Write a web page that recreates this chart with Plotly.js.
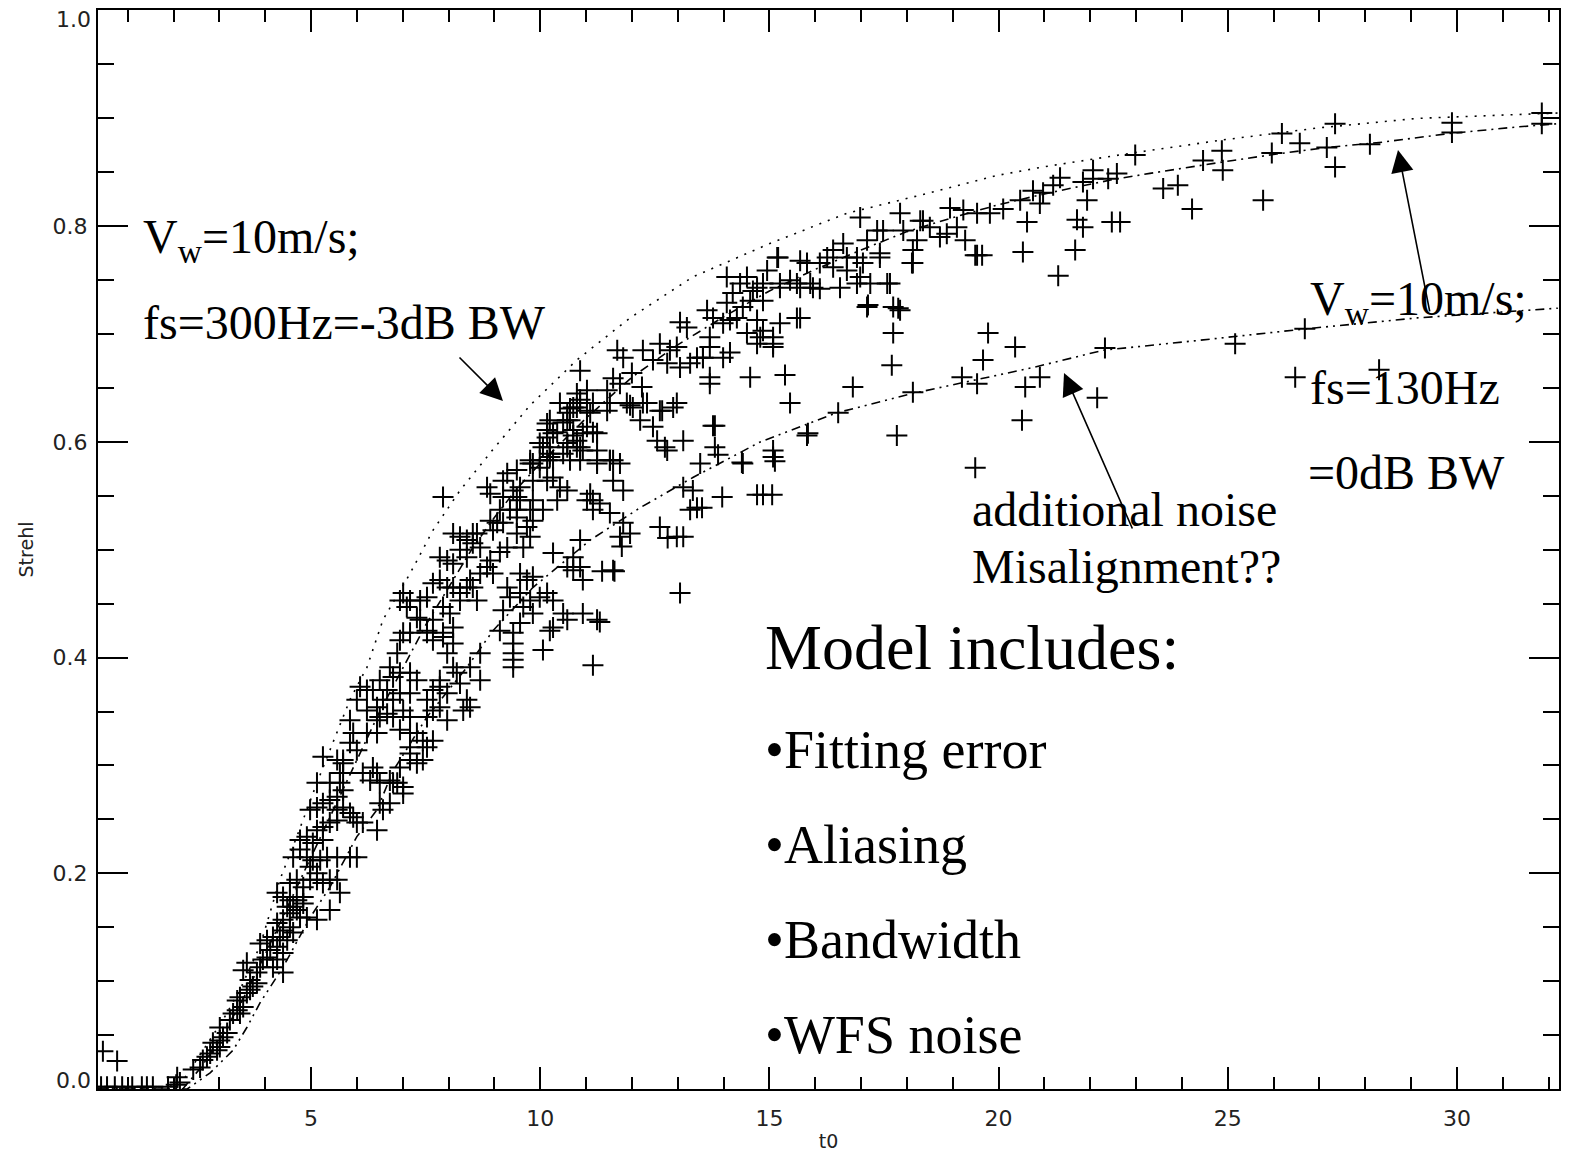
<!DOCTYPE html>
<html>
<head>
<meta charset="utf-8">
<script src="https://cdn.plot.ly/plotly-3.0.1.min.js"></script>
<style>html,body{margin:0;padding:0;background:#fff;}#chart{width:1572px;height:1164px;}</style>
</head>
<body>
<div id="chart"></div>
<script>
// ---- observed points [t0, Strehl] ----
var obsFloor = [[0.42,0.002],[0.55,0.002],[0.72,0.002],[0.88,0.002],[1.10,0.002],[1.31,0.002],[1.42,0.002],[1.55,0.002],[1.88,0.002],[2.06,0.004],[0.46,0.035],[0.77,0.026],[2.08,0.011],[2.14,0.006]];

var obsRise = [[2.43,0.018],[2.64,0.027],[2.58,0.020],[2.73,0.030],[2.80,0.033],[2.95,0.036],[3.01,0.039],[2.86,0.043],[3.01,0.045],[3.08,0.048],[3.17,0.052],[3.01,0.057],[3.23,0.064],[3.30,0.070],[3.39,0.073],[3.45,0.070],[3.52,0.076],[3.39,0.082],[3.45,0.085],[3.60,0.089],[3.67,0.092],[3.73,0.095],[3.82,0.098],[3.67,0.101],[3.52,0.110],[3.60,0.117],[3.82,0.108],[3.89,0.113],[3.95,0.120],[4.04,0.122],[4.17,0.113],[4.26,0.120],[4.11,0.129],[4.26,0.132],[4.39,0.126],[4.39,0.108],[3.89,0.135],[4.04,0.138],[4.17,0.141],[4.32,0.141],[4.39,0.147],[4.54,0.150],[4.48,0.138],[4.61,0.145],[4.26,0.154],[4.39,0.157],[4.54,0.163],[4.69,0.166],[4.76,0.159],[4.91,0.159],[5.13,0.157],[4.83,0.172],[4.26,0.182],[4.39,0.178],[4.54,0.175],[4.69,0.175],[4.83,0.178],[4.61,0.169],[4.48,0.169],[4.54,0.191],[4.69,0.194],[4.83,0.187],[4.98,0.194],[5.13,0.194],[5.26,0.191],[5.41,0.194],[5.57,0.194],[5.63,0.182],[5.41,0.166],[4.61,0.215],[4.76,0.222],[4.91,0.215],[5.04,0.212],[5.20,0.212],[5.35,0.215],[5.57,0.215],[5.85,0.215],[6.00,0.215],[4.98,0.206],[5.13,0.200],[4.76,0.231],[4.91,0.234],[5.04,0.228],[5.26,0.231],[5.13,0.240],[5.26,0.243],[5.41,0.247],[5.57,0.249],[4.98,0.259],[5.13,0.261],[5.26,0.265],[5.41,0.268],[5.57,0.271],[5.57,0.259],[5.70,0.261],[5.85,0.256],[6.00,0.247],[6.13,0.247],[6.44,0.240],[5.92,0.252],[5.63,0.284],[5.70,0.293],[5.70,0.302],[6.13,0.293],[6.29,0.286],[6.44,0.293],[6.72,0.286],[6.88,0.284],[7.01,0.274],[6.50,0.265],[6.57,0.259],[6.72,0.265],[7.31,0.302],[7.44,0.305]];

var obsBand = [[7.88,0.549],[8.91,0.552],[8.84,0.558],[9.28,0.571],[9.49,0.574],[9.19,0.564],[9.41,0.555],[9.56,0.558],[9.84,0.564],[10.15,0.564],[10.28,0.567],[9.12,0.537],[9.34,0.537],[9.49,0.537],[9.78,0.537],[10.06,0.537],[10.37,0.546],[9.56,0.546],[9.84,0.546],[9.19,0.525],[9.49,0.530],[9.71,0.521],[9.84,0.527],[9.49,0.515],[9.78,0.512],[9.63,0.502],[9.12,0.498],[9.28,0.502],[9.99,0.576],[10.21,0.586],[10.50,0.589],[10.59,0.595],[10.80,0.601],[10.93,0.608],[11.02,0.614],[10.15,0.611],[10.21,0.620],[10.15,0.604],[10.59,0.627],[10.80,0.632],[11.02,0.629],[11.15,0.636],[11.46,0.629],[11.52,0.636],[11.89,0.636],[12.02,0.632],[12.24,0.636],[12.61,0.629],[12.90,0.632],[12.18,0.620],[12.46,0.614],[12.55,0.601],[12.77,0.592],[13.12,0.601],[10.65,0.583],[10.93,0.592],[11.24,0.608],[11.24,0.580],[11.52,0.583],[11.74,0.580],[11.59,0.564],[11.81,0.555],[11.15,0.546],[11.30,0.543],[11.52,0.534],[11.81,0.525],[11.96,0.515],[11.74,0.512],[12.61,0.521],[12.98,0.512],[13.12,0.512],[13.05,0.460],[13.27,0.537],[13.42,0.539],[13.33,0.555],[13.12,0.558],[11.59,0.481],[10.87,0.509],[10.72,0.493],[10.87,0.484],[10.93,0.472],[10.28,0.497],[10.59,0.484],[10.72,0.481],[9.99,0.456],[10.15,0.460],[10.28,0.453],[10.50,0.441],[10.28,0.428],[10.21,0.425],[10.59,0.435],[10.93,0.441],[11.24,0.435],[9.63,0.447],[9.78,0.453],[9.84,0.441],[9.56,0.432],[9.41,0.423],[9.41,0.413],[9.41,0.404],[9.41,0.398],[9.41,0.391],[9.12,0.425],[9.19,0.444],[9.34,0.456],[10.06,0.407],[11.15,0.393],[8.69,0.404],[8.47,0.391],[8.69,0.379],[8.18,0.386],[8.10,0.391],[7.97,0.404],[8.10,0.413],[7.88,0.419],[7.66,0.416],[7.53,0.423],[8.25,0.376],[8.40,0.361],[8.32,0.351],[8.47,0.354],[7.81,0.379],[7.97,0.367],[7.81,0.354],[7.97,0.342],[7.66,0.351],[7.53,0.345],[7.31,0.330],[7.44,0.323],[7.66,0.323],[7.53,0.317],[7.16,0.317],[7.16,0.311],[7.16,0.305],[6.94,0.298],[6.79,0.284],[7.01,0.280],[6.50,0.284],[6.35,0.298],[6.00,0.314],[5.85,0.321],[6.22,0.330],[6.44,0.330],[6.50,0.345],[6.44,0.354],[6.66,0.348],[6.79,0.345],[6.94,0.333],[7.16,0.330],[5.70,0.277],[5.63,0.293],[5.57,0.305],[5.70,0.305],[5.92,0.330],[5.85,0.342],[5.26,0.308],[5.13,0.284],[5.41,0.284],[6.07,0.373],[6.00,0.361],[6.22,0.370],[6.35,0.370],[6.50,0.379],[6.66,0.370],[6.57,0.361],[6.79,0.361],[6.94,0.367],[7.16,0.367],[7.31,0.379],[7.16,0.386],[6.22,0.351],[6.44,0.342],[7.01,0.351],[7.16,0.345],[7.53,0.361],[7.66,0.370],[7.81,0.373],[6.72,0.391],[6.79,0.382],[6.94,0.386],[6.88,0.404],[6.94,0.416],[7.01,0.423],[7.16,0.423],[6.94,0.453],[7.01,0.460],[7.09,0.447],[7.16,0.453],[7.38,0.453],[7.53,0.456],[7.31,0.437],[7.53,0.425],[7.38,0.435],[7.66,0.435],[7.88,0.447],[8.03,0.441],[8.10,0.428],[7.88,0.423],[7.66,0.469],[7.81,0.472],[7.97,0.465],[8.10,0.465],[8.25,0.460],[8.25,0.453],[8.40,0.465],[8.53,0.465],[8.47,0.472],[8.69,0.478],[8.62,0.453],[7.81,0.493],[7.97,0.490],[8.10,0.487],[8.25,0.500],[8.40,0.493],[8.40,0.509],[8.53,0.506],[8.69,0.502],[8.84,0.484],[8.91,0.490],[8.10,0.515],[8.25,0.512],[8.53,0.515],[8.62,0.515],[9.06,0.525],[8.97,0.518],[8.91,0.527],[9.19,0.549],[9.49,0.549],[9.84,0.580],[9.99,0.583],[10.28,0.583],[8.97,0.478],[9.28,0.465],[9.56,0.460],[9.56,0.478],[9.71,0.472],[9.84,0.475],[10.43,0.558],[10.59,0.555],[11.02,0.546],[11.15,0.537],[11.09,0.552],[10.28,0.608],[9.99,0.599],[10.65,0.620]];

var obsUpper = [[16.98,0.808],[17.48,0.796],[17.85,0.812],[18.29,0.805],[18.94,0.817],[19.53,0.812],[19.81,0.812],[18.87,0.793],[19.27,0.787],[19.53,0.773],[18.13,0.778],[18.13,0.766],[18.22,0.787],[17.41,0.775],[17.63,0.747],[17.15,0.727],[17.81,0.724],[17.70,0.701],[17.67,0.671],[17.78,0.606],[16.82,0.651],[18.13,0.646],[16.50,0.627],[15.84,0.608],[15.45,0.636],[15.34,0.662],[14.58,0.660],[13.81,0.615],[13.81,0.595],[13.88,0.588],[14.40,0.581],[15.08,0.592],[15.08,0.586],[13.49,0.580],[12.72,0.595],[11.59,0.583],[11.24,0.592],[12.98,0.636],[12.66,0.629],[12.33,0.636],[11.96,0.634],[12.22,0.651],[12.00,0.664],[11.74,0.654],[11.46,0.648],[11.59,0.659],[10.87,0.666],[10.80,0.645],[10.87,0.636],[10.65,0.631],[10.43,0.636],[10.15,0.617],[10.21,0.595],[10.72,0.606],[10.87,0.595],[11.15,0.609],[10.50,0.618],[9.78,0.580],[11.68,0.685],[11.81,0.678],[12.24,0.685],[12.61,0.691],[12.83,0.685],[12.98,0.688],[12.46,0.676],[12.77,0.673],[13.05,0.669],[13.27,0.673],[13.42,0.678],[13.55,0.678],[13.70,0.660],[13.99,0.678],[13.70,0.688],[13.70,0.697],[13.64,0.722],[13.77,0.715],[13.05,0.711],[13.20,0.706],[13.99,0.710],[14.14,0.713],[14.29,0.715],[14.42,0.725],[14.58,0.731],[14.07,0.729],[14.20,0.738],[14.07,0.753],[14.51,0.753],[14.73,0.743],[14.86,0.731],[14.86,0.703],[15.08,0.697],[14.73,0.713],[14.51,0.701],[14.73,0.691],[15.08,0.691],[15.60,0.715],[15.23,0.710],[14.95,0.759],[15.23,0.747],[15.45,0.750],[15.67,0.743],[15.95,0.743],[15.17,0.771],[15.67,0.768],[16.10,0.766],[16.39,0.778],[16.61,0.784],[16.69,0.771],[16.91,0.771],[17.04,0.766],[16.69,0.759],[16.98,0.753],[16.54,0.743],[16.91,0.747],[17.20,0.747],[17.57,0.747],[16.26,0.771],[16.39,0.762],[17.13,0.787],[17.35,0.796],[17.41,0.771],[17.92,0.796],[18.35,0.805],[18.50,0.799],[18.72,0.790],[10.72,0.632],[10.87,0.639],[11.02,0.648],[11.09,0.627],[10.37,0.609],[10.59,0.620],[10.72,0.611],[10.06,0.595],[10.21,0.589],[10.59,0.599],[10.80,0.595],[10.87,0.583],[11.24,0.583],[11.52,0.583],[9.78,0.583],[10.15,0.583],[13.77,0.615],[14.42,0.580],[14.86,0.551],[14.73,0.551],[13.97,0.549],[13.53,0.539],[15.82,0.606],[17.13,0.725],[17.70,0.725],[17.85,0.722],[14.36,0.747],[14.64,0.740],[14.86,0.747],[15.23,0.743],[15.60,0.747],[15.89,0.747],[16.10,0.742],[13.70,0.654],[13.55,0.678],[14.14,0.683],[14.80,0.697],[15.08,0.688],[15.67,0.715],[15.19,0.771],[15.82,0.766],[18.11,0.766]];

var obsPlateau = [[22.98,0.866],[22.58,0.849],[22.39,0.844],[22.06,0.852],[22.06,0.844],[21.84,0.841],[21.34,0.845],[21.19,0.838],[20.97,0.831],[20.75,0.833],[20.90,0.821],[20.47,0.824],[20.10,0.816],[19.23,0.815],[19.09,0.799],[19.49,0.773],[19.64,0.773],[20.53,0.776],[20.62,0.804],[21.71,0.806],[21.84,0.799],[21.67,0.778],[21.30,0.754],[22.47,0.804],[22.65,0.804],[21.93,0.824],[23.59,0.835],[23.91,0.838],[24.22,0.816],[25.77,0.824],[24.46,0.861],[24.89,0.852],[24.87,0.870],[25.96,0.868],[26.18,0.886],[26.57,0.877],[27.16,0.873],[27.34,0.895],[27.34,0.855],[28.10,0.876],[29.89,0.896],[29.89,0.887],[31.85,0.905],[31.85,0.895]];

var obsNoisy = [[19.77,0.701],[20.36,0.688],[19.66,0.676],[19.20,0.660],[19.53,0.654],[20.58,0.651],[20.90,0.660],[22.15,0.641],[20.51,0.620],[19.49,0.576],[22.32,0.687],[25.16,0.691],[26.68,0.705],[26.47,0.660],[28.30,0.667],[15.12,0.582],[15.06,0.551],[12.78,0.511],[11.78,0.503],[11.35,0.480],[11.62,0.480],[11.30,0.433]];

// ---- model curves [t0, Strehl] ----
var model300Hz = [[0.35,0.0],[1.9,0.002],[2.21,0.008],[2.65,0.036],[3.08,0.064],[3.45,0.092],[3.89,0.133],[4.32,0.194],[4.69,0.234],[5.13,0.284],[5.85,0.361],[6.22,0.391],[6.57,0.435],[7.16,0.478],[7.66,0.518],[8.25,0.555],[8.95,0.592],[9.78,0.634],[10.80,0.676],[11.96,0.715],[13.33,0.753],[15.01,0.784],[16.69,0.812],[18.50,0.831],[19.96,0.847],[20.97,0.855],[22.93,0.868],[24.89,0.880],[26.94,0.891],[29.13,0.900],[32.2,0.905]];

var model130Hz = [[0.35,0.0],[2.2,0.0],[2.6,0.02],[3.0,0.045],[3.5,0.082],[4.0,0.125],[4.5,0.17],[5.0,0.215],[5.5,0.26],[6.0,0.305],[6.5,0.35],[7.0,0.39],[7.5,0.43],[8.0,0.465],[8.5,0.50],[9.0,0.53],[9.5,0.557],[10.0,0.58],[11.0,0.622],[12.0,0.66],[13.0,0.69],[14.0,0.716],[15.0,0.74],[16.0,0.76],[17.0,0.778],[18.0,0.795],[19.0,0.808],[20.0,0.82],[21.0,0.83],[22.0,0.839],[22.58,0.844],[23.3,0.849],[24.02,0.854],[25.11,0.861],[26.07,0.867],[27.16,0.873],[28.38,0.878],[29.84,0.886],[31.3,0.892],[32.2,0.895]];

var modelNoise = [[0.35,0.0],[2.3,0.0],[2.8,0.015],[3.30,0.036],[3.60,0.057],[3.89,0.080],[4.39,0.113],[4.98,0.159],[5.41,0.187],[6.00,0.234],[6.44,0.259],[6.79,0.295],[7.53,0.345],[8.40,0.391],[8.97,0.425],[9.84,0.465],[11.09,0.509],[12.18,0.539],[13.33,0.567],[14.8,0.600],[16.47,0.627],[18.13,0.645],[20.75,0.669],[22.28,0.685],[24.33,0.694],[26.73,0.705],[29.13,0.715],[32.2,0.724]];

// ---- axes ----
var xRange = [0.353, 32.225];
var yRange = [0, 1.0005];
var xTickVals = [5, 10, 15, 20, 25, 30];
var xTickText = ['5', '10', '15', '20', '25', '30'];
var yTickVals = [0, 0.2, 0.4, 0.6, 0.8, 1.0];
var yTickText = ['0.0', '0.2', '0.4', '0.6', '0.8', '1.0'];
// the two end labels sit just inside the frame, as in the original
var yEndLabels = ['0.0', '1.0'];

var obsAll = [].concat(obsFloor, obsRise, obsBand, obsUpper, obsPlateau, obsNoisy);
function col(a, i) { return a.map(function (p) { return p[i]; }); }

var traces = [
  {x: col(model300Hz,0), y: col(model300Hz,1), type:'scatter', mode:'lines',
   line:{color:'#000', width:1.6, dash:'2px,7px'}, hoverinfo:'skip'},
  {x: col(model130Hz,0), y: col(model130Hz,1), type:'scatter', mode:'lines',
   line:{color:'#000', width:1.6, dash:'9px,5px,2px,5px'}, hoverinfo:'skip'},
  {x: col(modelNoise,0), y: col(modelNoise,1), type:'scatter', mode:'lines',
   line:{color:'#000', width:1.6, dash:'9px,5px,2px,5px,2px,5px'}, hoverinfo:'skip'},
  {x: col(obsAll,0), y: col(obsAll,1), type:'scatter', mode:'markers',
   marker:{symbol:'cross-thin-open', size:15, color:'#000', line:{color:'#000', width:2}}}
];

var serif = 'Liberation Serif, Times New Roman, serif';
var tickFont = {family:'DejaVu Sans, sans-serif', size:22, color:'#222'};
function txt(s, x, y, size) {
  return {text: s, xref:'paper', yref:'paper', x:x, y:y, xanchor:'left', yanchor:'middle',
          showarrow:false, font:{family:serif, size:size, color:'#000'}};
}
function arrow(x, y, ax, ay) {
  return {text:'', xref:'paper', yref:'paper', x:x, y:y, ax:ax, ay:ay, showarrow:true,
          arrowhead:2, arrowsize:2.8, arrowwidth:1.6, arrowcolor:'#000', standoff:0, startstandoff:0};
}
function endLabel(s, y, shift) {
  return {text: s, xref:'paper', yref:'y', x:0, y:y, xanchor:'right', yanchor:'middle',
          xshift:-5, yshift:shift, showarrow:false, font:tickFont};
}

// ticktext with the end labels blanked (drawn as annotations instead)
var yTickTextShown = yTickText.map(function (t) { return yEndLabels.indexOf(t) >= 0 ? '' : t; });

var annotations = [
  txt('V<sub>w</sub>=10m/s;', 0.0294, 0.787, 48),
  txt('fs=300Hz=-3dB BW', 0.0294, 0.710, 48),
  txt('V<sub>w</sub>=10m/s;', 0.828, 0.729, 48),
  txt('fs=130Hz', 0.828, 0.650, 48),
  txt('=0dB BW', 0.827, 0.571, 48),
  txt('additional noise', 0.597, 0.537, 48),
  txt('Misalignment??', 0.597, 0.484, 48),
  txt('Model includes:', 0.455, 0.409, 64),
  txt('•Fitting error', 0.455, 0.314, 54),
  txt('•Aliasing', 0.455, 0.226, 54),
  txt('•Bandwidth', 0.455, 0.138, 54),
  txt('•WFS noise', 0.455, 0.050, 54),
  arrow(0.2772, 0.6376, -45, -45),
  arrow(0.8898, 0.8703, 32, 163),
  arrow(0.6612, 0.6636, 69, 157),
  endLabel(yEndLabels[0], yTickVals[0], 9),
  endLabel(yEndLabels[1], yTickVals[yTickVals.length - 1], -9)
];

var layout = {
  width:1572, height:1164,
  margin:{l:98, r:13, t:10, b:75, pad:0},
  paper_bgcolor:'#fff', plot_bgcolor:'#fff',
  showlegend:false,
  xaxis:{range:xRange, showgrid:false, zeroline:false, showline:true, linecolor:'#000', linewidth:2,
         mirror:'allticks', ticks:'inside', ticklen:22, tickwidth:2, tickcolor:'#000',
         tickvals:xTickVals, ticktext:xTickText, tickfont:tickFont, ticklabelstandoff:9,
         ticklabeloverflow:'allow',
         minor:{dtick:1, tick0:0, ticks:'inside', ticklen:12, tickwidth:2, tickcolor:'#000', showgrid:false},
         title:{text:'t0', font:{family:'DejaVu Sans, sans-serif', size:19, color:'#222'}, standoff:4}},
  yaxis:{range:yRange, showgrid:false, zeroline:false, showline:true, linecolor:'#000', linewidth:2,
         mirror:'allticks', ticks:'inside', ticklen:30, tickwidth:2, tickcolor:'#000',
         tickvals:yTickVals, ticktext:yTickTextShown, tickfont:tickFont, ticklabelstandoff:4,
         ticklabeloverflow:'allow',
         minor:{dtick:0.05, tick0:0, ticks:'inside', ticklen:16, tickwidth:2, tickcolor:'#000', showgrid:false},
         title:{text:'Strehl', font:{family:'DejaVu Sans, sans-serif', size:19, color:'#222'}, standoff:14}},
  annotations: annotations
};

Plotly.newPlot('chart', traces, layout, {displayModeBar:false, staticPlot:true});
</script>
</body>
</html>
